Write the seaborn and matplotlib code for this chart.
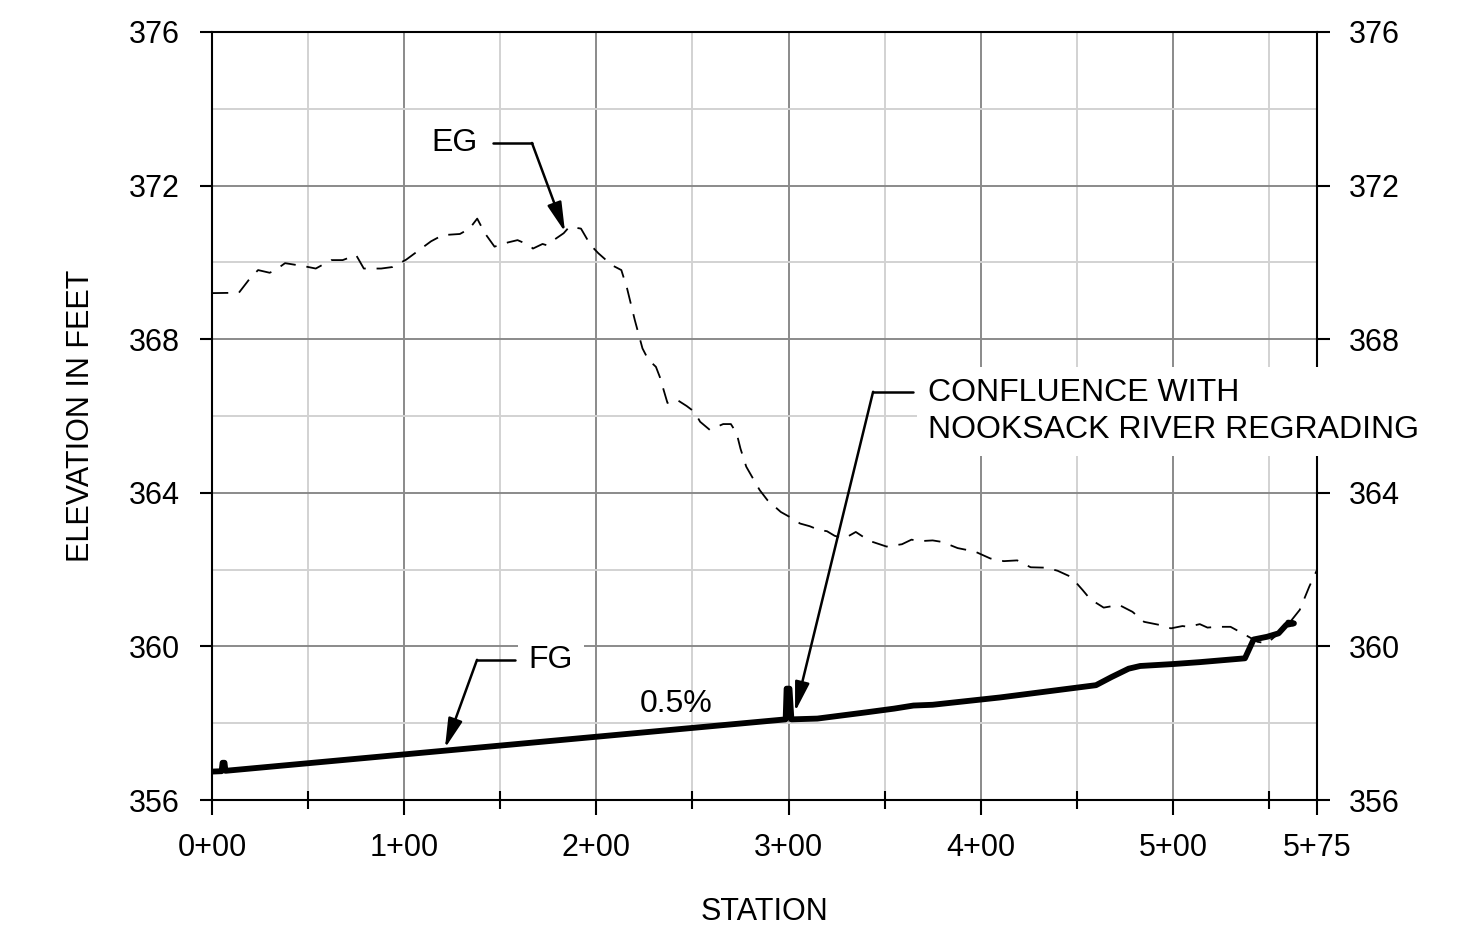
import matplotlib

matplotlib.use("Agg")
import matplotlib.pyplot as plt
import seaborn as sns

# existing grade (dashed), station in feet / elevation in feet
EG_STA = [0, 14, 20, 24, 30, 33, 38, 48, 54, 62, 68, 75, 79, 88, 94, 101, 114, 120,
          129, 134, 138, 142, 147, 154, 159, 165, 167, 172, 174, 183, 186, 192, 197,
          201, 208, 213, 216, 220, 224, 227, 231, 233, 237, 242, 247, 251, 254, 259,
          266, 270, 273, 275, 278, 282, 285, 289, 296, 301, 306, 311, 316, 320, 324,
          329, 335, 342, 351, 359, 364, 368, 375, 380, 388, 397, 405, 412, 419, 426,
          434, 440, 447, 453, 457, 464, 472, 479, 485, 493, 499, 505, 508, 514, 518,
          523, 530, 537, 544, 549, 552, 559, 566, 571, 575]
EG_ELEV = [369.2, 369.21, 369.6, 369.8, 369.73, 369.8, 369.98, 369.9, 369.84, 370.06,
           370.06, 370.19, 369.84, 369.84, 369.88, 370.07, 370.55, 370.71, 370.74,
           370.88, 371.14, 370.76, 370.41, 370.52, 370.58, 370.45, 370.36, 370.48,
           370.45, 370.76, 370.93, 370.88, 370.45, 370.24, 369.93, 369.8, 369.32,
           368.5, 367.76, 367.47, 367.28, 367.02, 366.34, 366.42, 366.26, 366.11,
           365.85, 365.64, 365.79, 365.79, 365.55, 365.15, 364.68, 364.33, 364.07,
           363.81, 363.5, 363.36, 363.2, 363.13, 363.03, 363.0, 362.88, 362.81,
           362.98, 362.75, 362.6, 362.66, 362.78, 362.74, 362.76, 362.72, 362.56,
           362.47, 362.29, 362.22, 362.24, 362.06, 362.05, 361.97, 361.81, 361.47,
           361.23, 361.01, 361.08, 360.9, 360.64, 360.56, 360.47, 360.53, 360.51,
           360.58, 360.49, 360.51, 360.51, 360.32, 360.12, 360.08, 360.21, 360.51,
           360.95, 361.56, 361.99]

# finished grade (thick solid)
FG_STA = [0, 5, 5.5, 6.5, 7, 298.5, 299, 300.5, 301.5, 315, 340, 355, 365, 375, 410,
          460, 468, 477, 483, 500, 514, 537.5, 542, 549, 555, 559, 563, 560]
FG_ELEV = [356.74, 356.75, 356.97, 356.97, 356.76, 358.1, 358.9, 358.9, 358.1, 358.12,
           358.28, 358.38, 358.46, 358.48, 358.67, 358.99, 359.2, 359.42, 359.49,
           359.54, 359.59, 359.69, 360.18, 360.25, 360.34, 360.56, 360.6, 360.62]

X_TICKS = [0, 100, 200, 300, 400, 500, 575]
X_LABELS = ["0+00", "1+00", "2+00", "3+00", "4+00", "5+00", "5+75"]
X_MINOR = [50, 150, 250, 350, 450, 550]
Y_TICKS = [356, 360, 364, 368, 372, 376]
Y_MINOR = [358, 362, 366, 370, 374]

sns.set_style("white")
plt.rcParams["font.family"] = ["Liberation Sans", "DejaVu Sans"]
plt.rcParams["text.color"] = "black"
plt.rcParams["axes.labelcolor"] = "black"
plt.rcParams["xtick.color"] = "black"
plt.rcParams["ytick.color"] = "black"

fig = plt.figure(figsize=(14.84, 9.32), dpi=100)
ax = fig.add_axes([0.14286, 0.14163, 0.74461, 0.82404])

sns.lineplot(x=EG_STA, y=EG_ELEV, ax=ax, sort=False, estimator=None,
             color="black", lw=1.3, linestyle=(0, (9, 6)))
sns.lineplot(x=FG_STA, y=FG_ELEV, ax=ax, sort=False, estimator=None,
             color="black", lw=4.2, solid_joinstyle="round", solid_capstyle="round")

ax.set_xlim(0, 575)
ax.set_ylim(356, 376)
ax.set_xticks(X_TICKS, X_LABELS)
ax.set_xticks(X_MINOR, minor=True)
ax.set_yticks(Y_TICKS)
ax.set_yticks(Y_MINOR, minor=True)

ax.set_axisbelow(True)
ax.grid(which="major", color="#8a8a8a", lw=1.4)
ax.grid(which="minor", color="#d2d2d2", lw=1.4)

for sp in ax.spines.values():
    sp.set_color("black")
    sp.set_linewidth(1.5)

ax.tick_params(axis="x", which="major", direction="out", length=11, width=1.5,
               pad=13, labelsize=22, top=False, bottom=True)
ax.tick_params(axis="x", which="minor", direction="inout", length=13, width=1.5,
               top=False, bottom=True)
ax.tick_params(axis="y", which="major", direction="out", length=9, width=1.5,
               pad=14, labelsize=22, left=True, right=True,
               labelleft=True, labelright=True)
ax.tick_params(axis="y", which="minor", length=0)

ax.set_xlabel("STATION", fontsize=22, labelpad=24)
ax.set_ylabel("ELEVATION IN FEET", fontsize=22, labelpad=24)


def leader(pts, tip):
    ax.plot([p[0] for p in pts], [p[1] for p in pts], color="black", lw=1.8)
    ax.annotate("", xy=tip, xytext=pts[-1],
                arrowprops=dict(arrowstyle="-|>,head_length=0.9,head_width=0.22",
                                mutation_scale=20, color="black", lw=1.8,
                                shrinkA=0, shrinkB=0))


box = dict(facecolor="white", edgecolor="none", boxstyle="square,pad=0.35")

ax.text(126.4, 373.11, "EG", fontsize=23, ha="center", va="center")
leader([(146.2, 373.11), (166.5, 373.11)], (183.7, 370.79))

ax.text(176.4, 359.65, "FG", fontsize=23, ha="center", va="center", bbox=box)
leader([(157.7, 359.65), (137.9, 359.65)], (121.2, 357.35))

ax.text(241.5, 358.5, "0.5%", fontsize=23, ha="center", va="center")

ax.text(372.6, 366.12, "CONFLUENCE WITH\nNOOKSACK RIVER REGRADING", fontsize=23,
        ha="left", va="center", linespacing=1.3, bbox=box, zorder=5)
leader([(364.8, 366.63), (344.0, 366.63)], (303.4, 358.3))

fig.savefig("out.png", dpi=100, facecolor="white")
